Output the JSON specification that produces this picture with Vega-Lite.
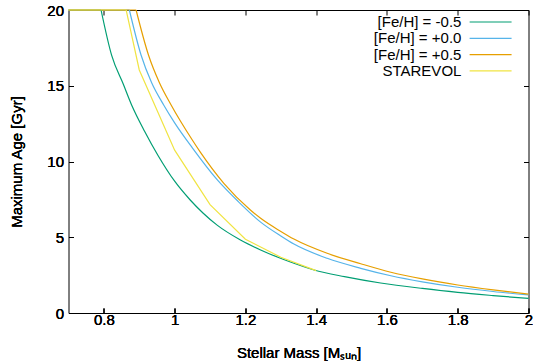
{
  "$schema": "https://vega.github.io/schema/vega-lite/v6.json",
  "width": 460,
  "height": 303,
  "autosize": {"type": "none"},
  "padding": {"left": 68.5, "top": 10, "right": 4.5, "bottom": 49},
  "background": "white",
  "config": {
    "font": "Liberation Sans",
    "view": {"stroke": "black", "strokeWidth": 1},
    "axis": {
      "grid": false,
      "domain": false,
      "labelFont": "Liberation Sans",
      "labelFontSize": 15,
      "labelColor": "black",
      "tickColor": "black",
      "tickWidth": 1,
      "titleFont": "Liberation Sans",
      "titleFontSize": 15,
      "titleFontWeight": "normal",
      "titleColor": "black",
      "labelFlush": false,
      "labelOverlap": false
    },
    "legend": {"labelFont": "Liberation Sans"}
  },
  "data": {
    "values": [
      {"series": "[Fe/H] = -0.5", "mass": 0.70, "age": 20},
      {"series": "[Fe/H] = -0.5", "mass": 0.792, "age": 20},
      {"series": "[Fe/H] = -0.5", "mass": 0.822, "age": 17.0},
      {"series": "[Fe/H] = -0.5", "mass": 0.855, "age": 15.1},
      {"series": "[Fe/H] = -0.5", "mass": 0.879, "age": 13.7},
      {"series": "[Fe/H] = -0.5", "mass": 0.915, "age": 12.0},
      {"series": "[Fe/H] = -0.5", "mass": 0.953, "age": 10.4},
      {"series": "[Fe/H] = -0.5", "mass": 1.0, "age": 8.7},
      {"series": "[Fe/H] = -0.5", "mass": 1.044, "age": 7.46},
      {"series": "[Fe/H] = -0.5", "mass": 1.08, "age": 6.6},
      {"series": "[Fe/H] = -0.5", "mass": 1.12, "age": 5.8},
      {"series": "[Fe/H] = -0.5", "mass": 1.186, "age": 4.82},
      {"series": "[Fe/H] = -0.5", "mass": 1.243, "age": 4.16},
      {"series": "[Fe/H] = -0.5", "mass": 1.299, "age": 3.61},
      {"series": "[Fe/H] = -0.5", "mass": 1.337, "age": 3.28},
      {"series": "[Fe/H] = -0.5", "mass": 1.394, "age": 2.84},
      {"series": "[Fe/H] = -0.5", "mass": 1.48, "age": 2.4},
      {"series": "[Fe/H] = -0.5", "mass": 1.582, "age": 1.98},
      {"series": "[Fe/H] = -0.5", "mass": 1.7, "age": 1.62},
      {"series": "[Fe/H] = -0.5", "mass": 1.8, "age": 1.36},
      {"series": "[Fe/H] = -0.5", "mass": 1.9, "age": 1.15},
      {"series": "[Fe/H] = -0.5", "mass": 2.0, "age": 0.96},

      {"series": "[Fe/H] = +0.0", "mass": 0.70, "age": 20},
      {"series": "[Fe/H] = +0.0", "mass": 0.872, "age": 20},
      {"series": "[Fe/H] = +0.0", "mass": 0.905, "age": 17.03},
      {"series": "[Fe/H] = +0.0", "mass": 0.935, "age": 15.2},
      {"series": "[Fe/H] = +0.0", "mass": 0.969, "age": 13.73},
      {"series": "[Fe/H] = +0.0", "mass": 1.0, "age": 12.55},
      {"series": "[Fe/H] = +0.0", "mass": 1.05, "age": 10.9},
      {"series": "[Fe/H] = +0.0", "mass": 1.12, "age": 8.8},
      {"series": "[Fe/H] = +0.0", "mass": 1.18, "age": 7.35},
      {"series": "[Fe/H] = +0.0", "mass": 1.243, "age": 6.0},
      {"series": "[Fe/H] = +0.0", "mass": 1.299, "age": 5.1},
      {"series": "[Fe/H] = +0.0", "mass": 1.337, "age": 4.55},
      {"series": "[Fe/H] = +0.0", "mass": 1.431, "age": 3.61},
      {"series": "[Fe/H] = +0.0", "mass": 1.526, "age": 2.95},
      {"series": "[Fe/H] = +0.0", "mass": 1.611, "age": 2.46},
      {"series": "[Fe/H] = +0.0", "mass": 1.7, "age": 2.06},
      {"series": "[Fe/H] = +0.0", "mass": 1.8, "age": 1.70},
      {"series": "[Fe/H] = +0.0", "mass": 1.9, "age": 1.42},
      {"series": "[Fe/H] = +0.0", "mass": 2.0, "age": 1.19},

      {"series": "[Fe/H] = +0.5", "mass": 0.70, "age": 20},
      {"series": "[Fe/H] = +0.5", "mass": 0.891, "age": 20},
      {"series": "[Fe/H] = +0.5", "mass": 0.926, "age": 17.03},
      {"series": "[Fe/H] = +0.5", "mass": 0.957, "age": 15.2},
      {"series": "[Fe/H] = +0.5", "mass": 0.99, "age": 13.73},
      {"series": "[Fe/H] = +0.5", "mass": 1.049, "age": 11.45},
      {"series": "[Fe/H] = +0.5", "mass": 1.073, "age": 10.6},
      {"series": "[Fe/H] = +0.5", "mass": 1.139, "age": 8.56},
      {"series": "[Fe/H] = +0.5", "mass": 1.214, "age": 6.80},
      {"series": "[Fe/H] = +0.5", "mass": 1.243, "age": 6.25},
      {"series": "[Fe/H] = +0.5", "mass": 1.299, "age": 5.40},
      {"series": "[Fe/H] = +0.5", "mass": 1.337, "age": 4.88},
      {"series": "[Fe/H] = +0.5", "mass": 1.431, "age": 3.94},
      {"series": "[Fe/H] = +0.5", "mass": 1.526, "age": 3.25},
      {"series": "[Fe/H] = +0.5", "mass": 1.611, "age": 2.69},
      {"series": "[Fe/H] = +0.5", "mass": 1.7, "age": 2.25},
      {"series": "[Fe/H] = +0.5", "mass": 1.8, "age": 1.85},
      {"series": "[Fe/H] = +0.5", "mass": 1.9, "age": 1.53},
      {"series": "[Fe/H] = +0.5", "mass": 2.0, "age": 1.25},

      {"series": "STAREVOL", "mass": 0.70, "age": 20},
      {"series": "STAREVOL", "mass": 0.863, "age": 20},
      {"series": "STAREVOL", "mass": 0.9, "age": 16.04},
      {"series": "STAREVOL", "mass": 1.0, "age": 10.75},
      {"series": "STAREVOL", "mass": 1.1, "age": 7.15},
      {"series": "STAREVOL", "mass": 1.2, "age": 4.87},
      {"series": "STAREVOL", "mass": 1.3, "age": 3.68},
      {"series": "STAREVOL", "mass": 1.4, "age": 2.8}
    ]
  },
  "encoding": {
    "x": {
      "field": "mass",
      "type": "quantitative",
      "scale": {"domain": [0.7, 2.0], "nice": false, "zero": false},
      "axis": {
        "orient": "bottom",
        "values": [0.8, 1, 1.2, 1.4, 1.6, 1.8, 2],
        "labelExpr": "'' + datum.value",
        "tickSize": -5,
        "labelPadding": 4,
        "title": "Stellar Mass [Mₛᵤₙ]",
        "titleY": 44,
        "titleBaseline": "alphabetic"
      }
    },
    "y": {
      "field": "age",
      "type": "quantitative",
      "scale": {"domain": [0, 20], "nice": false, "zero": true},
      "axis": {
        "orient": "left",
        "values": [0, 5, 10, 15, 20],
        "tickSize": -5,
        "labelPadding": 10,
        "title": "Maximum Age [Gyr]",
        "titleX": -52,
        "titleY": 151.5,
        "titleBaseline": "middle"
      }
    }
  },
  "layer": [
    {
      "transform": [{"filter": "datum.series !== 'STAREVOL' && datum.age >= 20"}],
      "mark": {"type": "line", "strokeWidth": 1.2, "clip": false},
      "encoding": {
        "color": {
          "field": "series",
          "type": "nominal",
          "scale": {
            "domain": ["[Fe/H] = -0.5", "[Fe/H] = +0.0", "[Fe/H] = +0.5", "STAREVOL"],
            "range": ["#009e73", "#56b4e9", "#e69f00", "#f0e442"]
          },
          "legend": {
            "orient": "none",
            "legendX": 414.6,
            "legendY": 4.5,
            "title": null,
            "padding": 0,
            "symbolType": "M-4,0H4",
            "symbolSize": 110,
            "symbolStrokeWidth": 1.2,
            "labelAlign": "right",
            "labelOffset": -36.7,
            "labelFontSize": 15,
            "labelColor": "black",
            "rowPadding": 0.3,
            "labelLimit": 0
          }
        }
      }
    },
    {
      "transform": [{"filter": "datum.series !== 'STAREVOL' && datum.mass > 0.7"}],
      "mark": {"type": "line", "strokeWidth": 1.2, "clip": false, "interpolate": "monotone"},
      "encoding": {
        "color": {"field": "series", "type": "nominal"}
      }
    },
    {
      "transform": [{"filter": "datum.series === 'STAREVOL'"}],
      "mark": {"type": "line", "strokeWidth": 1.2, "clip": false},
      "encoding": {
        "color": {"field": "series", "type": "nominal"}
      }
    },
    {
      "mark": {"type": "point", "opacity": 0},
      "encoding": {
        "x": {
          "field": "mass",
          "type": "quantitative",
          "axis": {
            "orient": "top",
            "values": [0.8, 1, 1.2, 1.4, 1.6, 1.8, 2],
            "labels": false,
            "tickSize": -5,
            "title": null
          }
        },
        "y": {
          "field": "age",
          "type": "quantitative",
          "axis": {
            "orient": "right",
            "values": [0, 5, 10, 15, 20],
            "labels": false,
            "tickSize": -5,
            "title": null
          }
        }
      }
    }
  ],
  "resolve": {"axis": {"x": "independent", "y": "independent"}}
}
